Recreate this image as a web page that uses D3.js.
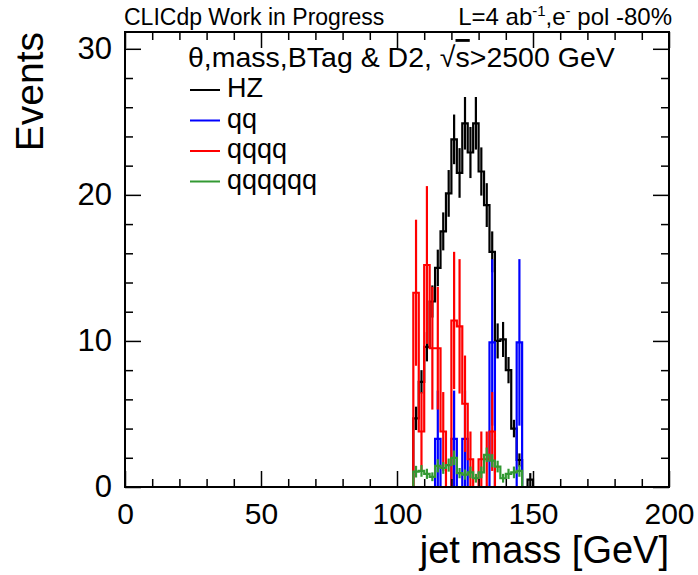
<!DOCTYPE html>
<html>
<head>
<meta charset="utf-8">
<script src="https://cdn.jsdelivr.net/npm/d3@7"></script>
<style>
  html, body { margin: 0; padding: 0; background: #fff; }
  svg { display: block; font-family: "Liberation Sans", Arial, Helvetica, sans-serif; }
</style>
</head>
<body>
<svg id="chart_svg" width="698" height="575"></svg>
<script>
// lower edge of each 2 GeV bin that is shown (all other bins are empty)
const binLow = [104, 106, 108, 110, 112, 114, 116, 118, 120, 122, 124, 126,
                128, 130, 132, 134, 136, 138, 140, 142, 144, 146, 148, 150];
const binWidth = 2;

const hzValues = [0, 4.7, 7.2, 9.6, 12.7, 15.0, 17.5, 20.1, 23.8, 21.5, 24.9, 22.9,
                  24.9, 21.6, 19.3, 16.1, 10.0, 10.1, 8.0, 4.0, 1.85, 0, 0.5, 0];
const hzErrors = [0, 0.8, 0.8, 1.0, 1.1, 1.25, 1.3, 1.6, 1.7, 1.7, 1.8, 1.75,
                  1.8, 1.65, 1.5, 1.4, 1.2, 1.2, 0.9, 0.6, 0.45, 0, 0.45, 0];

const qqValues = [0, 0, 0, 0, 0, 3.3, 0, 0, 3.3, 0, 3.3, 0,
                  0, 0, 0, 9.9, 0, 0, 0, 0, 9.9, 0, 0, 0];
const qqErrors = [0, 0, 0, 0, 0, 3.3, 0, 0, 3.3, 0, 3.3, 0,
                  0, 0, 0, 5.7, 0, 0, 0, 0, 5.7, 0, 0, 0];

const qqqqValues = [0, 13.3, 3.8, 15.2, 9.5, 9.5, 3.8, 0, 11.4, 11.0, 5.7, 1.9,
                    0, 1.9, 1.9, 3.8, 0, 0, 0, 0, 0, 0, 0, 0];
const qqqqErrors = [0, 5.0, 2.7, 5.4, 4.2, 4.2, 2.7, 0, 4.7, 4.6, 3.3, 1.9,
                    0, 1.9, 1.9, 2.7, 0, 0, 0, 0, 0, 0, 0, 0];

const q6Values = [0, 1.05, 1.1, 0.9, 0.7, 1.45, 1.3, 1.5, 2.0, 0.95, 0.85, 1.0,
                  0.6, 1.0, 2.2, 1.8, 1.4, 0.6, 0.9, 1.0, 1.1, 0, 0, 0];
const q6Errors = [0, 0.4, 0.4, 0.35, 0.3, 0.45, 0.4, 0.45, 0.5, 0.35, 0.35, 0.4,
                  0.3, 0.4, 0.5, 0.45, 0.4, 0.3, 0.35, 0.4, 0.4, 0, 0, 0];

const seriesNames = ['HZ', 'qq', 'qqqq', 'qqqqqq'];
const seriesColors = ['#000000', '#0000ff', '#ff0000', '#339933'];

const xMajorTicks = [0, 50, 100, 150, 200];
const yMajorTicks = [0, 10, 20, 30];

/**
 * Frame of the plot area
 */
const frame = { left: 125, right: 669, top: 32, bottom: 487 };

let svg = d3.select('#chart_svg');

const xScale = d3.scaleLinear().domain([0, 200]).range([frame.left, frame.right]);
const yScale = d3.scaleLinear().domain([0, 31.15]).range([frame.bottom, frame.top]);

svg.append('rect')
    .attr('width', 698).attr('height', 575).attr('fill', '#fff');

/**
 * Histograms, drawn as steps with error bars
 */
const series = [
    { values: hzValues, errors: hzErrors },
    { values: qqValues, errors: qqErrors },
    { values: qqqqValues, errors: qqqqErrors },
    { values: q6Values, errors: q6Errors },
];

let g_hist = svg.append('g').attr('class', 'g_hist');

series.forEach((s, i) => {
    const color = seriesColors[i];
    // step outline over the whole axis range
    let pts = [[0, 0], [binLow[0], 0]];
    binLow.forEach((lo, k) => {
        pts.push([lo, s.values[k]]);
        pts.push([lo + binWidth, s.values[k]]);
    });
    pts.push([binLow[binLow.length - 1] + binWidth, 0]);
    pts.push([200, 0]);

    const line = d3.line()
        .x((d) => xScale(d[0]))
        .y((d) => yScale(d[1]));

    g_hist.append('path')
        .attr('d', line(pts))
        .attr('fill', 'none')
        .attr('stroke', color)
        .attr('stroke-width', 2.2);

    const bins = binLow.map((lo, k) => ({ lo: lo, v: s.values[k], e: s.errors[k] }))
        .filter((d) => d.v > 0);

    g_hist.selectAll('.err_' + i)
        .data(bins)
        .enter()
        .append('line')
        .attr('class', 'err_' + i)
        .attr('x1', (d) => xScale(d.lo + binWidth / 2))
        .attr('x2', (d) => xScale(d.lo + binWidth / 2))
        .attr('y1', (d) => yScale(Math.max(0, d.v - d.e)))
        .attr('y2', (d) => yScale(d.v + d.e))
        .attr('stroke', color)
        .attr('stroke-width', 2.2);
});

/**
 * Axes: ticks inside the frame on all four sides
 */
const xMinor = d3.range(10, 200, 10).filter((v) => v % 50 !== 0);
const yMinor = d3.range(2, 31, 2).filter((v) => v % 10 !== 0);

function styleAxis(g) {
    g.select('.domain').remove();
    g.selectAll('line').attr('stroke', '#000').attr('stroke-width', 1.5);
    g.selectAll('text')
        .attr('fill', '#000')
        .style('font-family', '"Liberation Sans", Arial, sans-serif');
}

svg.append('g')
    .attr('transform', 'translate(0,' + frame.bottom + ')')
    .call(d3.axisBottom(xScale).tickValues(xMajorTicks).tickSize(-16).tickPadding(16).tickFormat(d3.format('d')))
    .call(styleAxis)
    .selectAll('text').style('font-size', '30px');

svg.append('g')
    .attr('transform', 'translate(0,' + frame.bottom + ')')
    .call(d3.axisBottom(xScale).tickValues(xMinor).tickSize(-8).tickFormat(''))
    .call(styleAxis);

svg.append('g')
    .attr('transform', 'translate(0,' + frame.top + ')')
    .call(d3.axisTop(xScale).tickValues(xMajorTicks).tickSize(-16).tickFormat(''))
    .call(styleAxis);

svg.append('g')
    .attr('transform', 'translate(0,' + frame.top + ')')
    .call(d3.axisTop(xScale).tickValues(xMinor).tickSize(-8).tickFormat(''))
    .call(styleAxis);

svg.append('g')
    .attr('transform', 'translate(' + frame.left + ',0)')
    .call(d3.axisLeft(yScale).tickValues(yMajorTicks).tickSize(-16).tickPadding(13).tickFormat(d3.format('d')))
    .call(styleAxis)
    .selectAll('text').style('font-size', '31px');

svg.append('g')
    .attr('transform', 'translate(' + frame.left + ',0)')
    .call(d3.axisLeft(yScale).tickValues(yMinor).tickSize(-8).tickFormat(''))
    .call(styleAxis);

svg.append('g')
    .attr('transform', 'translate(' + frame.right + ',0)')
    .call(d3.axisRight(yScale).tickValues(yMajorTicks).tickSize(-16).tickFormat(''))
    .call(styleAxis);

svg.append('g')
    .attr('transform', 'translate(' + frame.right + ',0)')
    .call(d3.axisRight(yScale).tickValues(yMinor).tickSize(-8).tickFormat(''))
    .call(styleAxis);

svg.append('rect')
    .attr('x', frame.left)
    .attr('y', frame.top)
    .attr('width', frame.right - frame.left)
    .attr('height', frame.bottom - frame.top)
    .attr('fill', 'none')
    .attr('stroke', '#000')
    .attr('stroke-width', 2);

/**
 * Axis titles
 */
svg.append('text')
    .attr('x', frame.right)
    .attr('y', 563)
    .attr('text-anchor', 'end')
    .style('font-size', '38px')
    .text('jet mass [GeV]');

svg.append('text')
    .attr('transform', 'translate(43,' + frame.top + ') rotate(-90)')
    .attr('text-anchor', 'end')
    .style('font-size', '39px')
    .text('Events');

/**
 * Header texts
 */
svg.append('text')
    .attr('x', 124)
    .attr('y', 25)
    .style('font-size', '23px')
    .text('CLICdp Work in Progress');

let lumi = svg.append('text')
    .attr('x', 672)
    .attr('y', 25)
    .attr('text-anchor', 'end')
    .style('font-size', '24px');
lumi.append('tspan').text('L=4 ab');
lumi.append('tspan').attr('dy', -9).style('font-size', '15px').text('-1');
lumi.append('tspan').attr('dy', 9).text(',e');
lumi.append('tspan').attr('dy', -9).style('font-size', '15px').text('-');
lumi.append('tspan').attr('dy', 9).text(' pol -80%');

/**
 * Legend
 */
let legendTitle = svg.append('text')
    .attr('x', 188)
    .attr('y', 67)
    .style('font-size', '28.5px');
legendTitle.append('tspan').text('θ,mass,BTag & D2, √');
legendTitle.append('tspan').style('text-decoration', 'overline').text('s');
legendTitle.append('tspan').text('>2500 GeV');

let legend = svg.selectAll('.legend_entry')
    .data(seriesNames)
    .enter()
    .append('g')
    .attr('class', 'legend_entry')
    .attr('transform', (d, i) => 'translate(190,' + (90 + i * 30.5) + ')');

legend.append('line')
    .attr('x1', 0).attr('x2', 30)
    .attr('stroke', (d, i) => seriesColors[i])
    .attr('stroke-width', 2);

legend.append('text')
    .attr('x', 37)
    .attr('y', 7)
    .style('font-size', '27px')
    .text((d) => d);
</script>
</body>
</html>
